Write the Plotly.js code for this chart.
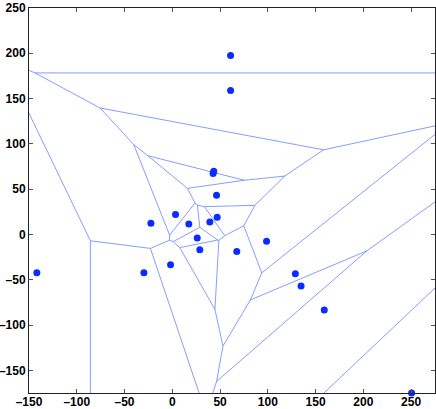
<!DOCTYPE html>
<html>
<head>
<meta charset="utf-8">
<script src="https://cdn.plot.ly/plotly-3.0.1.min.js"></script>
<style>html,body{margin:0;padding:0;background:#fff;}#chart{width:436px;height:409px;}</style>
</head>
<body>
<div id="chart"></div>
<script>
// Site coordinates
const siteX = [61, 61, 43.4, 42.7, 46.3, 3.4, -22.4, 17.3, 39.3, 47, 26.1, 28.8, -1.8, -29.7, -141.8, 67.5, 98.7, 128.8, 134.8, 159.1, 250.5];
const siteY = [197.7, 159, 69.8, 67.2, 43.2, 22, 12.3, 11.6, 13.8, 18.9, -3.9, -16.8, -33.3, -42.2, -42.2, -18.9, -7.6, -43.3, -56.8, -83.3, -174.9];
const xTicks = [-150, -100, -50, 0, 50, 100, 150, 200, 250];
const yTicks = [-150, -100, -50, 0, 50, 100, 150, 200, 250];

// Delaunay triangulation (Bowyer-Watson) -> Voronoi edges
function circum(a, b, c) {
  const d = 2 * (a[0] * (b[1] - c[1]) + b[0] * (c[1] - a[1]) + c[0] * (a[1] - b[1]));
  const a2 = a[0] * a[0] + a[1] * a[1], b2 = b[0] * b[0] + b[1] * b[1], c2 = c[0] * c[0] + c[1] * c[1];
  const ux = (a2 * (b[1] - c[1]) + b2 * (c[1] - a[1]) + c2 * (a[1] - b[1])) / d;
  const uy = (a2 * (c[0] - b[0]) + b2 * (a[0] - c[0]) + c2 * (b[0] - a[0])) / d;
  const r2 = (a[0] - ux) ** 2 + (a[1] - uy) ** 2;
  return [ux, uy, r2];
}
function voronoiSegments(xs, ys) {
  const pts = xs.map((x, i) => [x, ys[i]]);
  const n = pts.length;
  const M = 1e6;
  pts.push([-M, -M], [M, -M], [0, M]);
  let tris = [[n, n + 1, n + 2]].map(t => ({ v: t, c: circum(pts[t[0]], pts[t[1]], pts[t[2]]) }));
  for (let i = 0; i < n; i++) {
    const p = pts[i];
    const bad = [], good = [];
    tris.forEach(t => {
      const dx = p[0] - t.c[0], dy = p[1] - t.c[1];
      (dx * dx + dy * dy < t.c[2] ? bad : good).push(t);
    });
    const edgeCount = {};
    bad.forEach(t => {
      for (let k = 0; k < 3; k++) {
        const a = t.v[k], b = t.v[(k + 1) % 3];
        const key = a < b ? a + ',' + b : b + ',' + a;
        edgeCount[key] = (edgeCount[key] || 0) + 1;
      }
    });
    tris = good;
    Object.keys(edgeCount).forEach(key => {
      if (edgeCount[key] === 1) {
        const [a, b] = key.split(',').map(Number);
        tris.push({ v: [a, b, i], c: circum(pts[a], pts[b], p) });
      }
    });
  }
  tris = tris.filter(t => t.v.every(v => v < n));
  const edges = {};
  tris.forEach((t, ti) => {
    for (let k = 0; k < 3; k++) {
      const a = t.v[k], b = t.v[(k + 1) % 3], o = t.v[(k + 2) % 3];
      const key = a < b ? a + ',' + b : b + ',' + a;
      (edges[key] = edges[key] || []).push({ ti, a, b, o });
    }
  });
  const sx = [], sy = [];
  Object.keys(edges).forEach(key => {
    const e = edges[key];
    if (e.length === 2) {
      const c1 = tris[e[0].ti].c, c2 = tris[e[1].ti].c;
      sx.push(c1[0], c2[0], null); sy.push(c1[1], c2[1], null);
    } else {
      const { ti, a, b, o } = e[0];
      const c = tris[ti].c;
      const A = pts[a], B = pts[b], O = pts[o];
      let nx = -(B[1] - A[1]), ny = B[0] - A[0];
      const mx = (A[0] + B[0]) / 2, my = (A[1] + B[1]) / 2;
      if (nx * (O[0] - mx) + ny * (O[1] - my) > 0) { nx = -nx; ny = -ny; }
      const L = Math.hypot(nx, ny);
      const far = 5000;
      sx.push(c[0], c[0] + nx / L * far, null); sy.push(c[1], c[1] + ny / L * far, null);
    }
  });
  return { sx, sy };
}

const seg = voronoiSegments(siteX, siteY);
const tickFont = { family: 'Liberation Sans, Arial, sans-serif', size: 12, color: '#000', weight: 'bold' };

const data = [
  { x: seg.sx, y: seg.sy, type: 'scatter', mode: 'lines', line: { color: '#6484ff', width: 0.8 }, hoverinfo: 'skip', connectgaps: false },
  { x: siteX, y: siteY, type: 'scatter', mode: 'markers', marker: { color: '#0a2cff', size: 7 }, cliponaxis: false }
];
const layout = {
  width: 436, height: 409,
  margin: { l: 29, r: 1, t: 8, b: 16, pad: 0 },
  paper_bgcolor: '#fff', plot_bgcolor: '#fff',
  showlegend: false,
  xaxis: {
    range: [-150, 275], tickvals: xTicks, ticktext: xTicks.map(String).map(s => s.replace('-', '\u2013')),
    ticks: 'inside', ticklen: 4, tickcolor: '#555', showline: true, linecolor: '#222', linewidth: 1,
    mirror: 'ticks', showgrid: false, zeroline: false, tickfont: tickFont, ticklabelstandoff: -2
  },
  yaxis: {
    range: [-175, 250], tickvals: yTicks, ticktext: yTicks.map(String).map(s => s.replace('-', '\u2013')),
    ticks: 'inside', ticklen: 4, tickcolor: '#555', showline: true, linecolor: '#222', linewidth: 1,
    mirror: 'ticks', showgrid: false, zeroline: false, tickfont: tickFont, ticklabelstandoff: 0
  }
};
Plotly.newPlot('chart', data, layout, { displayModeBar: false, staticPlot: true });
</script>
</body>
</html>
